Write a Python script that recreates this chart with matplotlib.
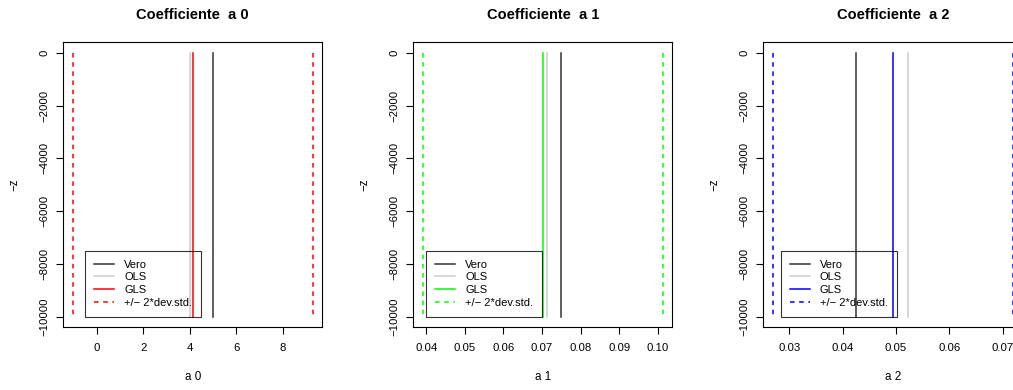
import matplotlib
matplotlib.use("Agg")
import matplotlib.pyplot as plt
from matplotlib.ticker import MultipleLocator

plt.rcParams["font.family"] = ["Liberation Sans", "DejaVu Sans"]

# stime dei coefficienti a0, a1, a2
coef_names = ["a 0", "a 1", "a 2"]
vero = [5.0, 0.075, 0.0425]
ols = [3.99, 0.0713, 0.0523]
gls = [4.13, 0.0702, 0.0494]
gls_sd = [2.58, 0.01555, 0.01125]
depth = [0, 10000]

gls_colors = ["red", "#00ff00", "blue"]
x_steps = [2, 0.01, 0.01]
legend_x = [-0.5, 0.04, 0.0284]

W, H = 1013, 390
fig = plt.figure(figsize=(W / 100, H / 100), dpi=100)

z = [-d for d in depth]
for i, name in enumerate(coef_names):
    left = 63.3 + 350 * i
    ax = fig.add_axes([left / W, 62.7 / H, 259 / W, 285 / H])
    col = gls_colors[i]
    lo = gls[i] - 2 * gls_sd[i]
    hi = gls[i] + 2 * gls_sd[i]

    ax.plot([vero[i]] * 2, z, color="#333333", lw=1.1, label="Vero")
    ax.plot([ols[i]] * 2, z, color="#cccccc", lw=1.1, label="OLS")
    ax.plot([gls[i]] * 2, z, color=col, lw=1.1, label="GLS")
    ax.plot([lo] * 2, z, color=col, lw=1.1, ls=(0, (3, 3)), label="+/\u2212 2*dev.std.")
    ax.plot([hi] * 2, z, color=col, lw=1.1, ls=(0, (3, 3)))

    ax.margins(0.04)
    ax.xaxis.set_major_locator(MultipleLocator(x_steps[i]))
    ax.yaxis.set_major_locator(MultipleLocator(2000))
    ax.tick_params(direction="out", length=5, width=0.8, labelsize=8.2, pad=6.5)
    ax.tick_params(axis="y", labelrotation=90, pad=5)
    for lab in ax.get_yticklabels():
        lab.set_verticalalignment("center")
    for s in ax.spines.values():
        s.set_linewidth(0.8)

    ax.set_title("Coefficiente  " + name, fontsize=10.5, fontweight="bold", pad=17)
    ax.set_xlabel(name, fontsize=8.4, labelpad=13)
    ax.set_ylabel("\u2212z", fontsize=8.4, labelpad=14)

    leg = ax.legend(loc="lower left", bbox_to_anchor=(legend_x[i], -10000),
                    bbox_transform=ax.transData, borderaxespad=0, fontsize=8,
                    frameon=True, fancybox=False, labelspacing=0.25,
                    handlelength=1.8, handletextpad=0.9, borderpad=0.8)
    fr = leg.get_frame()
    fr.set_facecolor("none")
    fr.set_edgecolor("black")
    fr.set_linewidth(0.8)

fig.savefig("out.png", dpi=100)
